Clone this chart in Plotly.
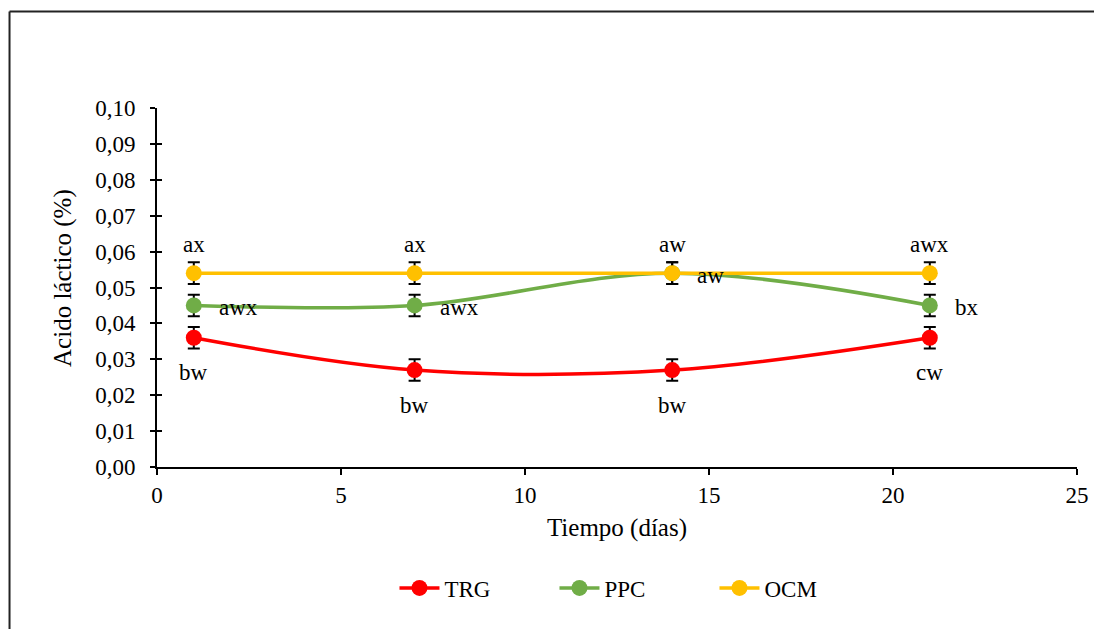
import plotly.graph_objects as go

days = [1, 7, 14, 21]
trg = [0.036, 0.027, 0.027, 0.036]
ppc = [0.045, 0.045, 0.054, 0.045]
ocm = [0.054, 0.054, 0.054, 0.054]
err = [0.003, 0.003, 0.003, 0.003]
trg_labels = ["bw", "bw", "bw", "cw"]
ppc_labels = ["awx", "awx", "aw", "bx"]
ocm_labels = ["ax", "ax", "aw", "awx"]
y_ticks = [0.00, 0.01, 0.02, 0.03, 0.04, 0.05, 0.06, 0.07, 0.08, 0.09, 0.10]
x_ticks = [0, 5, 10, 15, 20, 25]

FONT = "Liberation Serif, Times New Roman, serif"
series = [
    ("TRG", trg, "#FF0000"),
    ("PPC", ppc, "#70AD47"),
    ("OCM", ocm, "#FFC000"),
]

fig = go.Figure()
for name, vals, col in series:
    fig.add_trace(go.Scatter(
        x=days, y=vals, name=name, mode="lines+markers",
        line=dict(color=col, width=3.5, shape="spline", smoothing=1.0),
        marker=dict(color=col, size=16),
        error_y=dict(type="data", array=err, visible=True, color="black",
                     thickness=2, width=6),
    ))

# invisible trace to activate the overlay axis for crossing ticks
fig.add_trace(go.Scatter(x=[None], y=[None], yaxis="y2", showlegend=False,
                         hoverinfo="skip"))

annotations = []
for d, v, t in zip(days, ocm, ocm_labels):
    annotations.append(dict(x=d, y=v, text=t, showarrow=False, yshift=29,
                            xanchor="center", yanchor="middle"))
for d, v, t in zip(days, ppc, ppc_labels):
    annotations.append(dict(x=d, y=v, text=t, showarrow=False, xshift=23,
                            yshift=-2, xanchor="left", yanchor="middle"))
for d, v, t in zip(days, trg, trg_labels):
    annotations.append(dict(x=d, y=v, text=t, showarrow=False, yshift=-35,
                            xanchor="center", yanchor="middle"))
for a in annotations:
    a["font"] = dict(family=FONT, size=23, color="black")

annotations.append(dict(xref="paper", yref="paper", x=-0.1022, y=0.5265,
                        text="Acido láctico (%)", textangle=-90, showarrow=False,
                        xanchor="center", yanchor="middle",
                        font=dict(family=FONT, size=25, color="black")))

fig.update_layout(
    width=1094, height=621,
    margin=dict(l=149, r=25, t=100, b=162),
    paper_bgcolor="white", plot_bgcolor="white",
    separators=",.",
    font=dict(family=FONT, size=23, color="black"),
    annotations=annotations,
    showlegend=True,
    legend=dict(orientation="h", x=0.519, xanchor="center", y=-0.337,
                yanchor="middle", font=dict(family=FONT, size=23),
                bgcolor="rgba(0,0,0,0)", entrywidth=105, itemwidth=40),
    xaxis=dict(range=[0, 25], tickvals=x_ticks, ticks="outside", ticklen=6,
               tickwidth=2, tickcolor="black", showline=True, linecolor="black",
               linewidth=2, showgrid=False, zeroline=False,
               tickfont=dict(family=FONT, size=23),
               title=dict(text="Tiempo (días)", font=dict(family=FONT, size=25),
                          standoff=12)),
    yaxis=dict(range=[0, 0.1], tickvals=y_ticks, tickformat=".2f",
               ticks="outside", ticklen=5, tickwidth=2, tickcolor="black",
               showline=True, linecolor="black", linewidth=2, showgrid=False,
               zeroline=False, tickfont=dict(family=FONT, size=23),
               ticklabelstandoff=10),
    yaxis2=dict(range=[0, 0.1], tickvals=y_ticks, overlaying="y", side="left",
                ticks="inside", ticklen=5, tickwidth=2, tickcolor="black",
                showticklabels=False, showgrid=False, zeroline=False,
                showline=False),
    shapes=[
        dict(type="line", xref="paper", yref="paper", x0=-0.1603, x1=1.2,
             y0=1.2688, y1=1.2688, line=dict(color="#222222", width=2)),
        dict(type="line", xref="paper", yref="paper", x0=-0.1603, x1=-0.1603,
             y0=1.2688, y1=-0.6, line=dict(color="#222222", width=2)),
    ],
)

fig.write_html("out.html")
